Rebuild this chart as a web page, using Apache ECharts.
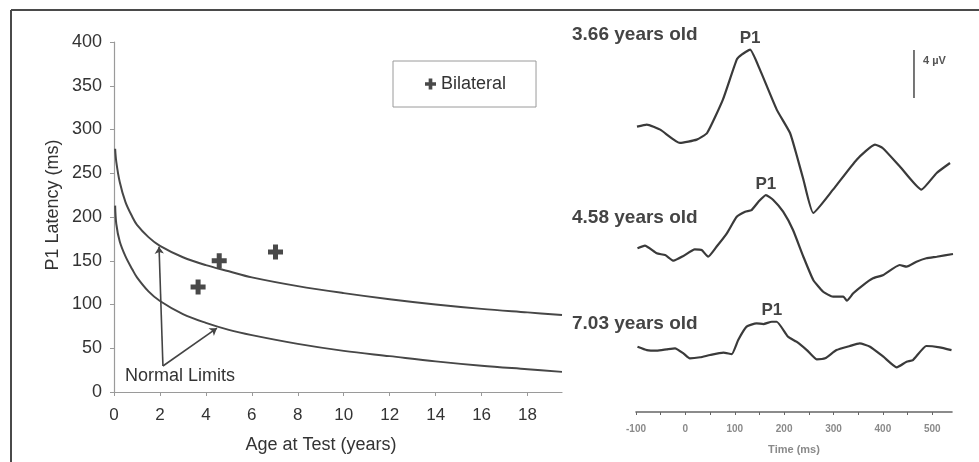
<!DOCTYPE html>
<html>
<head>
<meta charset="utf-8">
<script src="https://cdn.jsdelivr.net/npm/echarts@6/dist/echarts.min.js"></script>
<style>
  html, body { margin: 0; padding: 0; background: #fff; }
  #chart { width: 979px; height: 462px; }
</style>
</head>
<body>
<div id="chart"></div>
<script>
// Normal limits of P1 latency (ms) as a function of age (years)
const limitAges  = [0.05, 0.1, 0.25, 0.5, 0.8, 1, 1.5, 2, 3, 4, 5, 6, 8, 10, 12, 14, 16, 18, 19.5];
const upperLimit = [278, 263, 240, 217, 200, 191, 177, 167, 154, 145, 138, 131, 121, 113, 106, 100, 95, 91, 88];
const lowerLimit = [213, 192, 172, 155, 140, 131, 115, 104, 89, 79, 71, 65, 55, 47, 41, 35, 30, 26, 23];

// Bilateral implant recipients: age at test and measured P1 latency
const bilateralAge     = [3.66, 4.58, 7.03];
const bilateralLatency = [120, 150, 160];

// Age axis and latency axis ticks
const ageTickStep = 2;
const latencyTickStep = 50;

// Cortical auditory evoked potentials (time in ms, amplitude in µV re: prestimulus start)
const waveAgeLabels = ['3.66 years old', '4.58 years old', '7.03 years old'];
const wave1Time = [-98, -78, -51, -11, 23, 44, 76, 104, 114, 131, 151, 185, 212, 226, 239, 259, 299, 347, 384, 400, 434, 478, 509, 536];
const wave1Amp  = [0, 0.17, -0.25, -1.36, -1.08, -0.53, 2.25, 5.58, 6.0, 6.42, 4.75, 1.42, -0.53, -2.47, -4.4, -7.19, -5.25, -2.75, -1.5, -1.8, -3.3, -5.25, -3.86, -3.03];
const wave2Time = [-97, -82, -58, -41, -24, -4, 19, 33, 46, 63, 84, 104, 121, 134, 148, 163, 178, 198, 218, 239, 259, 279, 299, 320, 327, 340, 360, 380, 401, 434, 448, 468, 488, 509, 542];
const wave2Amp  = [0, 0.22, -0.42, -0.56, -1.03, -0.64, -0.08, -0.14, -0.7, 0.13, 1.25, 2.63, 3.05, 3.19, 3.88, 4.44, 4.03, 3.05, 1.53, -0.7, -2.64, -3.62, -4.03, -4.03, -4.37, -3.75, -3.06, -2.5, -2.22, -1.39, -1.53, -1.12, -0.83, -0.7, -0.47];
const wave3Time = [-97, -78, -58, -38, -21, -4, 9, 30, 50, 77, 94, 107, 124, 144, 158, 175, 185, 208, 225, 246, 266, 283, 306, 333, 353, 374, 401, 428, 448, 461, 488, 515, 539];
const wave3Amp  = [0, -0.28, -0.33, -0.22, -0.13, -0.55, -0.97, -0.88, -0.69, -0.5, -0.61, 0.56, 1.67, 1.95, 1.89, 2.08, 2.08, 0.83, 0.42, -0.28, -1.05, -0.97, -0.28, 0.06, 0.28, 0, -0.83, -1.72, -1.25, -1.11, 0.06, -0.05, -0.28];

// Vertical stacking of the three traces within the waveform panel (µV units)
const traceBaselines = [23.78, 13.64, 5.44];
// Amplitude scale bar
const scaleBarTime = 463;
const scaleBarBase = 26.17;
const scaleBarMicroVolts = 4;

const FONT = "'Liberation Sans', Arial, Helvetica, sans-serif";
const PLUS = 'path://M-1,-3H1V-1H3V1H1V3H-1V1H-3V-1H-1Z';
const INK = '#3a3a3a';

const zip = (xs, ys, off = 0) => xs.map((x, i) => [x, ys[i] + off]);

function waveSeries(name, times, amps, base) {
  // P1: largest positive deflection between 100 and 200 ms
  let peak = -1;
  times.forEach((t, i) => {
    if (t >= 100 && t <= 200 && (peak < 0 || amps[i] > amps[peak])) peak = i;
  });
  return {
    name: name,
    type: 'line',
    xAxisIndex: 1,
    yAxisIndex: 1,
    data: zip(times, amps, base),
    showSymbol: false,
    smooth: 0.15,
    silent: true,
    lineStyle: { color: INK, width: 2.2 },
    markPoint: {
      silent: true,
      symbol: 'circle',
      symbolSize: 1,
      itemStyle: { color: 'rgba(0,0,0,0)' },
      label: {
        show: true, position: 'top', distance: 2, formatter: 'P1',
        fontFamily: FONT, fontSize: 17, fontWeight: 'bold', color: '#444'
      },
      data: [{ coord: [times[peak], amps[peak] + base] }]
    }
  };
}

const chart = echarts.init(document.getElementById('chart'), null, { renderer: 'canvas' });

const ageLabelY = [35, 218, 324];

chart.setOption({
  backgroundColor: '#ffffff',
  animation: false,
  textStyle: { fontFamily: FONT },
  grid: [
    { left: 114, right: 417, top: 42, bottom: 70 },
    { left: 636, right: 27, top: 28, bottom: 50 }
  ],
  legend: {
    data: [{ name: 'Bilateral', icon: PLUS }],
    left: 393, top: 61,
    borderColor: '#9a9a9a', borderWidth: 1,
    padding: [14, 30, 14, 32],
    itemWidth: 11, itemHeight: 11,
    textStyle: { fontFamily: FONT, fontSize: 18, color: '#333' },
    selectedMode: false
  },
  xAxis: [
    {
      type: 'value', gridIndex: 0, min: 0, max: 19.5, interval: ageTickStep,
      axisLine: { show: true, lineStyle: { color: '#9a9a9a', width: 1.2 } },
      axisTick: { show: true, length: 4, lineStyle: { color: '#9a9a9a' } },
      axisLabel: { fontSize: 17, color: '#333', margin: 15, showMaxLabel: false },
      splitLine: { show: false }
    },
    {
      type: 'value', gridIndex: 1, min: -100, max: 540, interval: 50,
      axisLine: { show: true, lineStyle: { color: '#666', width: 1.6 } },
      axisTick: { show: true, length: 3, lineStyle: { color: '#666' } },
      axisLabel: {
        fontSize: 10, color: '#8a8a8a', fontWeight: 'bold', margin: 12, showMaxLabel: false,
        formatter: v => (v % 100 === 0 ? String(v) : '')
      },
      splitLine: { show: false },
      name: 'Time (ms)', nameLocation: 'middle', nameGap: 32,
      nameTextStyle: { fontSize: 11, color: '#8a8a8a', fontWeight: 'bold' }
    }
  ],
  yAxis: [
    {
      type: 'value', gridIndex: 0, min: 0, max: 400, interval: latencyTickStep,
      axisLine: { show: true, lineStyle: { color: '#9a9a9a', width: 1.2 } },
      axisTick: { show: true, length: 4, lineStyle: { color: '#9a9a9a' } },
      axisLabel: { fontSize: 18, color: '#333', margin: 12 },
      splitLine: { show: false }
    },
    {
      type: 'value', gridIndex: 1, min: 0, max: 32, show: false,
      splitLine: { show: false }
    }
  ],
  series: [
    {
      name: 'Upper limit', type: 'line', xAxisIndex: 0, yAxisIndex: 0,
      data: zip(limitAges, upperLimit),
      showSymbol: false, smooth: 0.35, silent: true,
      lineStyle: { color: '#474747', width: 2 },
      markLine: {
        silent: true,
        symbol: ['none', 'arrow'], symbolSize: 7,
        lineStyle: { color: '#444', width: 1.6, type: 'solid' },
        label: { show: false },
        data: [
          [{ coord: [2.13, 29.7] }, { coord: [1.96, 166] }],
          [{ coord: [2.13, 29.7] }, { coord: [4.48, 73] }]
        ]
      }
    },
    {
      name: 'Lower limit', type: 'line', xAxisIndex: 0, yAxisIndex: 0,
      data: zip(limitAges, lowerLimit),
      showSymbol: false, smooth: 0.35, silent: true,
      lineStyle: { color: '#474747', width: 2 }
    },
    {
      name: 'Bilateral', type: 'scatter', xAxisIndex: 0, yAxisIndex: 0,
      data: zip(bilateralAge, bilateralLatency),
      symbol: PLUS, symbolSize: 15,
      itemStyle: { color: '#1c1c1c' }
    },
    waveSeries('wave1', wave1Time, wave1Amp, traceBaselines[0]),
    waveSeries('wave2', wave2Time, wave2Amp, traceBaselines[1]),
    waveSeries('wave3', wave3Time, wave3Amp, traceBaselines[2]),
    {
      name: 'scale', type: 'line', xAxisIndex: 1, yAxisIndex: 1,
      data: [[scaleBarTime, scaleBarBase], [scaleBarTime, scaleBarBase + scaleBarMicroVolts]],
      showSymbol: false, silent: true,
      lineStyle: { color: '#555', width: 1.6 }
    }
  ],
  graphic: [
    { type: 'line', shape: { x1: 11, y1: 10, x2: 979, y2: 10 }, style: { stroke: '#4a4a4a', lineWidth: 2 }, silent: true },
    { type: 'line', shape: { x1: 11, y1: 10, x2: 11, y2: 462 }, style: { stroke: '#4a4a4a', lineWidth: 2 }, silent: true },
    {
      type: 'text', x: 53, y: 205, rotation: Math.PI / 2,
      style: { text: 'P1 Latency (ms)', font: '18px ' + FONT, fill: '#333', align: 'center', verticalAlign: 'middle' }
    },
    {
      type: 'text', x: 321, y: 445,
      style: { text: 'Age at Test (years)', font: '18px ' + FONT, fill: '#333', align: 'center', verticalAlign: 'middle' }
    },
    {
      type: 'text', x: 125, y: 376,
      style: { text: 'Normal Limits', font: '18px ' + FONT, fill: '#333', align: 'left', verticalAlign: 'middle' }
    },
    ...waveAgeLabels.map((txt, i) => ({
      type: 'text', x: 572, y: ageLabelY[i],
      style: { text: txt, font: 'bold 19px ' + FONT, fill: '#444', align: 'left', verticalAlign: 'middle' }
    })),
    {
      type: 'text', x: 923, y: 61,
      style: { text: '4 µV', font: 'bold 11px ' + FONT, fill: '#555', align: 'left', verticalAlign: 'middle' }
    }
  ]
});
</script>
</body>
</html>
